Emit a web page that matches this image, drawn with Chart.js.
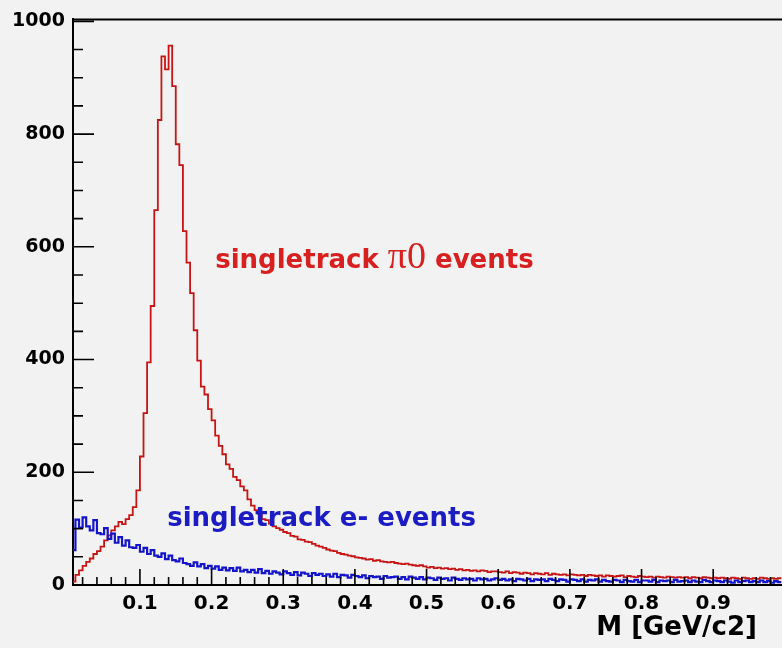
<!DOCTYPE html>
<html>
<head>
<meta charset="utf-8">
<script src="https://cdn.jsdelivr.net/npm/chart.js@4.4.1/dist/chart.umd.min.js"></script>
<style>
  html, body { margin: 0; padding: 0; background: #f2f2f2; }
  #wrap { width: 782px; height: 648px; }
</style>
</head>
<body>
<div id="wrap"><canvas id="c" width="782" height="648"></canvas></div>
<script>
// histogram binning (GeV/c2)
const binLow = 0.005;
const binWidth = 0.005;

// singletrack pi0 events, counts per bin
const pi0Counts = [
  6, 18, 26, 34, 41, 47, 55, 60, 68, 79,
  88, 97, 104, 112, 108, 117, 124, 138, 168, 228,
  305, 395, 495, 665, 825, 938, 915, 957, 885, 782,
  745, 628, 572, 518, 452, 398, 352, 338, 312, 292,
  265, 247, 232, 214, 206, 192, 186, 175, 168, 152,
  141, 133, 126, 117, 115, 109, 104, 101, 98, 94,
  92, 87, 86, 81, 80, 77, 76, 73, 70, 68,
  66, 63, 61, 60, 57, 55, 54, 52, 51, 49,
  48, 47, 45, 46, 43, 44, 42, 41, 40, 41,
  39, 38, 37, 38, 36, 35, 34, 35, 33, 31,
  32, 30, 31, 29, 30, 28, 29, 27, 28, 26,
  27, 25, 26, 24, 26, 25, 23, 24, 24, 23,
  22, 24, 21, 23, 22, 20, 22, 21, 19, 21,
  20, 19, 21, 18, 20, 19, 18, 19, 17, 19,
  18, 17, 18, 16, 18, 17, 16, 17, 15, 17,
  16, 15, 16, 17, 14, 16, 15, 14, 16, 15,
  14, 15, 13, 15, 14, 13, 15, 14, 13, 14,
  13, 14, 12, 14, 13, 12, 14, 13, 12, 13,
  12, 13, 12, 11, 13, 12, 11, 13, 12, 11,
  12, 11, 13, 12, 11, 12, 11, 12
];

// singletrack e- events, counts per bin
const electronCounts = [
  62, 116, 102, 120, 104, 97, 115, 92, 90, 101,
  82, 91, 75, 85, 70, 79, 67, 66, 71, 59,
  66, 55, 62, 52, 50, 56, 46, 52, 44, 42,
  47, 39, 37, 34, 40, 33, 37, 30, 34, 29,
  33, 27, 31, 26, 30, 25, 31, 24, 27, 23,
  27, 22, 28, 21, 25, 20, 24, 22, 19, 24,
  21, 18, 23, 17, 22, 20, 16, 21, 18, 20,
  16, 19, 15, 20, 14, 18, 17, 13, 18, 16,
  14, 17, 12, 16, 14, 15, 11, 16, 13, 14,
  15, 11, 14, 10, 15, 13, 11, 14, 10, 13,
  12, 9, 13, 11, 12, 8, 13, 11, 9, 12,
  10, 11, 8, 12, 10, 11, 8, 10, 12, 9,
  11, 8, 10, 7, 11, 10, 8, 11, 7, 10,
  9, 10, 7, 11, 9, 7, 10, 9, 6, 10,
  9, 7, 10, 6, 9, 8, 10, 6, 9, 7,
  6, 9, 8, 5, 9, 7, 6, 9, 5, 8,
  8, 6, 9, 5, 8, 7, 8, 5, 9, 6,
  7, 8, 5, 8, 6, 5, 9, 7, 5, 8,
  7, 5, 8, 6, 4, 8, 5, 7, 8, 5,
  7, 5, 8, 5, 7, 4, 7, 5
];

const xRange = [0.0066, 0.996];
const yRange = [0, 1003.5];
const xTickValues = [0.1, 0.2, 0.3, 0.4, 0.5, 0.6, 0.7, 0.8, 0.9];
const yTickValues = [0, 200, 400, 600, 800, 1000];
const xMinor = 0.02, yMinor = 50;
const xTitle = 'M [GeV/c2]';

// text labels placed in data coordinates
const notes = [
  { x: 0.205, y: 563, color: '#d82020', parts: ['singletrack ', 'π0', ' events'] },
  { x: 0.138, y: 104, color: '#1c1cc4', parts: ['singletrack e- events'] }
];

const RED = '#c81414';
const BLUE = '#1414cc';

function toSteps(counts) {
  const pts = counts.map((c, i) => ({ x: binLow + i * binWidth, y: c }));
  pts.push({ x: binLow + counts.length * binWidth, y: counts[counts.length - 1] });
  return pts;
}

const boldFont = 'bold 26px "DejaVu Sans"';
const piFont = '38px "Liberation Serif"';

const rootFrame = {
  id: 'rootFrame',
  afterDatasetsDraw(chart) {
    const ctx = chart.ctx, a = chart.chartArea;
    const xs = chart.scales.x, ys = chart.scales.y;
    ctx.save();
    ctx.strokeStyle = '#000';
    ctx.lineWidth = 2;
    ctx.beginPath();
    ctx.moveTo(a.left, a.top); ctx.lineTo(a.right, a.top);
    ctx.stroke();
    // inward ticks, ROOT style
    ctx.lineWidth = 1.6;
    ctx.beginPath();
    for (let k = 0; k * yMinor <= yRange[1]; k++) {
      const v = k * yMinor;
      const py = ys.getPixelForValue(v);
      const len = yTickValues.includes(v) ? 21 : 10;
      ctx.moveTo(a.left, py); ctx.lineTo(a.left + len, py);
    }
    for (let k = 1; k * xMinor <= xRange[1]; k++) {
      const v = k * xMinor;
      if (v < xRange[0]) continue;
      const px = xs.getPixelForValue(v);
      const len = (k % 5 === 0) ? 16 : 8;
      ctx.moveTo(px, a.bottom); ctx.lineTo(px, a.bottom - len);
    }
    ctx.stroke();

    // notes
    ctx.textBaseline = 'alphabetic';
    ctx.textAlign = 'left';
    notes.forEach(n => {
      let px = xs.getPixelForValue(n.x);
      const py = ys.getPixelForValue(n.y);
      ctx.fillStyle = n.color;
      n.parts.forEach(p => {
        ctx.font = (p === 'π0') ? piFont : boldFont;
        ctx.fillText(p, px, py);
        px += ctx.measureText(p).width;
      });
    });

    // axis title, right aligned under the axis
    ctx.fillStyle = '#000';
    ctx.font = boldFont;
    ctx.textAlign = 'right';
    ctx.fillText(xTitle, a.right - 25, a.bottom + 50);
    ctx.restore();
  }
};

new Chart(document.getElementById('c'), {
  type: 'line',
  data: {
    datasets: [
      { label: 'singletrack e- events', data: toSteps(electronCounts), borderColor: BLUE, borderWidth: 2.2 },
      { label: 'singletrack pi0 events', data: toSteps(pi0Counts), borderColor: RED, borderWidth: 1.8 }
    ]
  },
  options: {
    responsive: false,
    animation: false,
    devicePixelRatio: 1,
    layout: { padding: { top: 18, right: 0, left: 0, bottom: 0 } },
    elements: {
      line: { stepped: 'before', tension: 0, fill: false },
      point: { radius: 0, hoverRadius: 0 }
    },
    plugins: { legend: { display: false }, tooltip: { enabled: false } },
    scales: {
      x: {
        type: 'linear',
        min: xRange[0], max: xRange[1],
        grid: { display: false, drawTicks: false },
        border: { display: true, color: '#000', width: 2 },
        afterFit: s => { s.height = 63; },
        afterBuildTicks: s => { s.ticks = xTickValues.map(v => ({ value: v })); },
        ticks: {
          autoSkip: false,
          maxRotation: 0,
          padding: 7,
          color: '#000',
          font: { family: 'DejaVu Sans', weight: 'bold', size: 20 },
          callback: v => v.toFixed(1)
        }
      },
      y: {
        min: yRange[0], max: yRange[1],
        grid: { display: false, drawTicks: false },
        border: { display: true, color: '#000', width: 2 },
        afterFit: s => { s.width = 73; },
        afterBuildTicks: s => { s.ticks = yTickValues.map(v => ({ value: v })); },
        ticks: {
          autoSkip: false,
          padding: 8,
          color: '#000',
          font: { family: 'DejaVu Sans', weight: 'bold', size: 19 },
          callback: v => String(v)
        }
      }
    }
  },
  plugins: [rootFrame]
});
</script>
</body>
</html>
